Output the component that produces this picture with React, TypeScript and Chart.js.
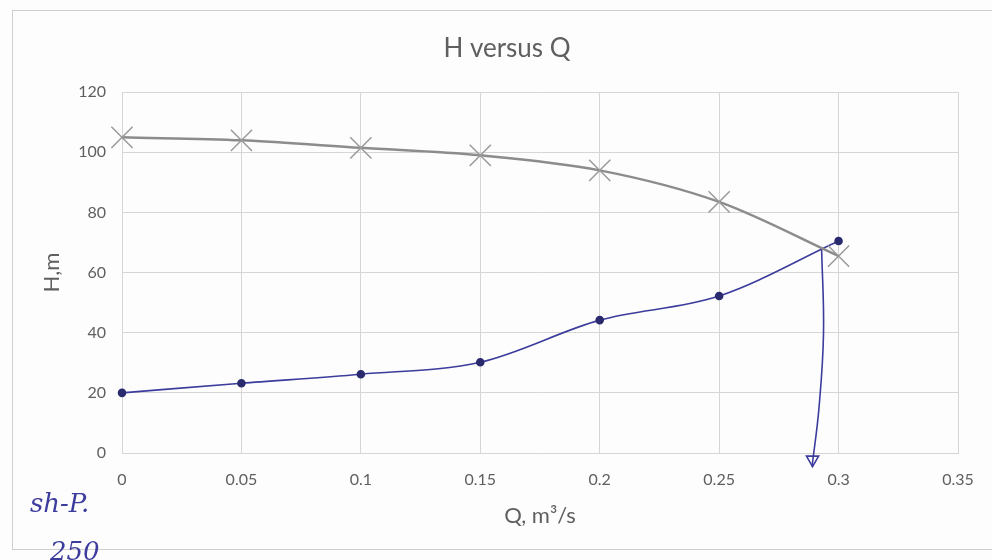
import React, { useEffect, useRef } from "react";
import { Chart, registerables } from "chart.js";

Chart.register(...registerables);

const qValues = [0, 0.05, 0.1, 0.15, 0.2, 0.25, 0.3];
const pumpHead = [105, 104, 101.5, 99, 94, 83.5, 65.5];
const systemHead = [20, 23.2, 26.2, 30.2, 44.2, 52.2, 70.5];
const arrowQ = [0.2929, 0.2937, 0.2918, 0.2889];
const arrowH = [68, 40, 15, -4.5];
const arrowHeadQ = [0.2891];
const arrowHeadH = [-2.2];
const xTicks = [0, 0.05, 0.1, 0.15, 0.2, 0.25, 0.3, 0.35];
const yTicks = [0, 20, 40, 60, 80, 100, 120];

const FONT = "Lato, 'Open Sans', sans-serif";
const GRAY = "#5f5f5f";
const INK = "#3c3c9c";

export default function App() {
  const ref = useRef<HTMLCanvasElement | null>(null);

  useEffect(() => {
    document.body.style.margin = "0";
    const ctx = ref.current!;
    const chart = new Chart(ctx, {
      type: "scatter",
      data: {
        datasets: [
          {
            label: "Pump",
            data: qValues.map((q, i) => ({ x: q, y: pumpHead[i] })),
            showLine: true,
            clip: false,
            borderColor: "#8c8c8c",
            borderWidth: 2.5,
            cubicInterpolationMode: "monotone",
            pointStyle: "crossRot",
            pointRadius: 15,
            pointBorderColor: "#9a9a9a",
            pointBorderWidth: 1.5,
          },
          {
            label: "System",
            data: qValues.map((q, i) => ({ x: q, y: systemHead[i] })),
            showLine: true,
            clip: false,
            borderColor: INK,
            borderWidth: 1.6,
            cubicInterpolationMode: "monotone",
            pointStyle: "circle",
            pointRadius: 3.5,
            pointBackgroundColor: "#2a2a6e",
            pointBorderColor: "#2a2a6e",
          },
          {
            label: "Operating point",
            data: arrowQ.map((q, i) => ({ x: q, y: arrowH[i] })),
            showLine: true,
            clip: false,
            borderColor: INK,
            borderWidth: 1.6,
            tension: 0.4,
            pointRadius: 0,
          },
          {
            label: "Arrow head",
            data: arrowHeadQ.map((q, i) => ({ x: q, y: arrowHeadH[i] })),
            showLine: false,
            clip: false,
            pointStyle: "triangle",
            pointRotation: 180,
            pointRadius: 7,
            pointBackgroundColor: "rgba(0,0,0,0)",
            pointBorderColor: INK,
            pointBorderWidth: 1.6,
          },
        ],
      },
      options: {
        animation: false,
        responsive: false,
        layout: { padding: { left: 56, right: 34, top: 0, bottom: 27 } },
        plugins: {
          legend: { display: false },
          tooltip: { enabled: false },
          title: {
            display: true,
            text: "H versus Q",
            color: GRAY,
            font: { family: FONT, size: 26, weight: "normal" },
            padding: { top: 33, bottom: 28 },
          },
        },
        scales: {
          x: {
            type: "linear",
            min: 0,
            max: 0.35,
            afterFit: (s: any) => {
              s.height = 80;
            },
            afterBuildTicks: (s: any) => {
              s.ticks = xTicks.map((v) => ({ value: v }));
            },
            ticks: {
              color: GRAY,
              font: { family: FONT, size: 16 },
              padding: 17,
              callback: (v: any) => String(Number(Number(v).toFixed(2))),
            },
            grid: { color: "#d6d6d6", drawTicks: false },
            border: { color: "#d6d6d6" },
            title: {
              display: true,
              text: "Q, m³/s",
              color: GRAY,
              font: { family: FONT, size: 22 },
              padding: { top: 0, bottom: 4 },
            },
          },
          y: {
            type: "linear",
            min: 0,
            max: 120,
            afterFit: (s: any) => {
              s.width = 66;
            },
            afterBuildTicks: (s: any) => {
              s.ticks = yTicks.map((v) => ({ value: v }));
            },
            ticks: {
              color: GRAY,
              font: { family: FONT, size: 16 },
              padding: 16,
            },
            grid: { color: "#d6d6d6", drawTicks: false },
            border: { color: "#d6d6d6" },
            title: {
              display: true,
              text: "H,m",
              color: GRAY,
              font: { family: FONT, size: 22 },
              padding: { top: -17, bottom: 0 },
            },
          },
        },
      },
    });
    return () => chart.destroy();
  }, []);

  return (
    <div style={{ position: "relative", width: 992, height: 560, overflow: "hidden", background: "#fdfdfd" }}>
      <div
        style={{
          position: "absolute",
          left: 12,
          top: 10,
          width: 1000,
          height: 538,
          border: "1px solid #cfcfcf",
        }}
      />
      <canvas ref={ref} width={992} height={560} style={{ position: "absolute", left: 0, top: 0 }} />
      <div
        style={{
          position: "absolute",
          left: 30,
          top: 488,
          color: INK,
          fontFamily: "'DejaVu Serif', serif",
          fontStyle: "italic",
          fontSize: 26,
        }}
      >
        sh-P.
      </div>
      <div
        style={{
          position: "absolute",
          left: 50,
          top: 536,
          color: INK,
          fontFamily: "'DejaVu Serif', serif",
          fontStyle: "italic",
          fontSize: 26,
        }}
      >
        250
      </div>
    </div>
  );
}
